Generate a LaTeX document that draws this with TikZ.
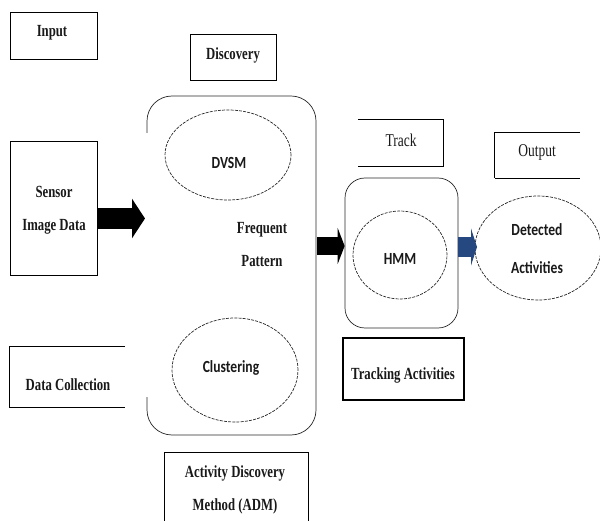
\documentclass[tikz,border=0pt]{standalone}
\usepackage{fontspec}
\setmainfont{Liberation Serif}
\newfontfamily\timesfont[FakeStretch=0.75]{Liberation Serif}
\newfontfamily\calfont[FakeStretch=0.8]{Carlito}
\usetikzlibrary{arrows.meta,shapes.geometric}
\definecolor{arrblue}{RGB}{38,72,128}
\definecolor{linegray}{RGB}{40,40,40}
\tikzset{
  box/.style={draw, line width=0.8pt, inner sep=0pt},
  openbox/.style={inner sep=0pt},
  lbl/.style={font=\timesfont\bfseries\fontsize{17}{33}\selectfont, align=center, inner sep=0pt, text=black!90},
  lblr/.style={font=\timesfont\fontsize{18}{22}\selectfont, align=center, inner sep=0pt, text=black!90},
  slbl/.style={font=\calfont\bfseries\fontsize{17}{38}\selectfont, align=center, inner sep=0pt, text=black!90},
  ell/.style={draw=linegray, ellipse, dash pattern=on 3pt off 1.2pt, line width=0.7pt, inner sep=0pt},
  container/.style={draw=linegray, line width=0.7pt},
  blockarrow/.style={line cap=butt}
}
\begin{document}
\begin{tikzpicture}[x=1pt,y=-1pt]
\useasboundingbox (0,0) rectangle (600,521);
% boxes
\node[box, minimum width=87pt, minimum height=47pt] (input) at (53.5,35.5) {};
\node[lbl] (inputtxt) at (52,33) {Input};
\node[box, minimum width=86pt, minimum height=46pt] (disc) at (233,57) {};
\node[lbl] (disctxt) at (233,55) {Discovery};
\node[box, minimum width=87pt, minimum height=134pt] (sensor) at (53.5,208) {};
\node[lbl] (sensortxt) at (54,210) {Sensor\\Image Data};
\node[openbox, minimum width=115pt, minimum height=60pt] (dc) at (67.5,377) {};
\draw[line width=0.8pt] (dc.north east) -- (dc.north west) -- (dc.south west) -- (dc.south east);
\node[lbl] (dctxt) at (68,385) {Data Collection};
\node[openbox, minimum width=143pt, minimum height=80pt] (admbox) at (236.5,493) {};
\draw[line width=0.8pt] (admbox.south west) -- (admbox.north west) -- (admbox.north east) -- (admbox.south east);
\node[lbl] (admtxt) at (235,490) {Activity Discovery\\Method (ADM)};
\node[openbox, minimum width=85pt, minimum height=46pt] (track) at (400.5,143) {};
\draw[line width=0.8pt] (track.north west) -- (track.north east) -- (track.south east) -- (track.south west);
\node[lblr] (tracktxt) at (401,140) {Track};
\node[openbox, minimum width=85pt, minimum height=45pt] (output) at (537.5,155.5) {};
\draw[line width=0.8pt] (output.north east) -- (output.north west) -- (output.south west);
\draw[line width=1.3pt] (output.south west) -- (output.south east);
\node[lblr] (outputtxt) at (537,152) {Output};
\node[box, line width=1.5pt, minimum width=121pt, minimum height=62pt] (tracking) at (403.5,369) {};
\node[lbl] (trackingtxt) at (403,375) {Tracking Activities};
% ADM container (left side partly open)
\coordinate (admtop) at (147,133);
\coordinate (admbot) at (147,397);
\draw[container, rounded corners=25pt] (admtop) -- (147,96) -- (316,96) -- (316,435) -- (147,435) -- (admbot);
\coordinate (admright) at (316,246);
% HMM container
\node[draw=linegray, line width=0.7pt, rounded corners=20pt, minimum width=113pt, minimum height=150pt, inner sep=0pt] (hmmbox) at (401.5,253) {};
% ellipses
\node[ell, minimum width=126pt, minimum height=90pt] (dvsm) at (228,155) {};
\node[slbl] (dvsmtxt) at (229,163) {DVSM};
\node[ell, minimum width=126pt, minimum height=104pt] (clust) at (235,370) {};
\node[slbl] (clusttxt) at (231,368) {Clustering};
\node[ell, minimum width=94pt, minimum height=88pt] (hmm) at (400,255) {};
\node[slbl] (hmmtxt) at (400,259) {HMM};
\node[ell, minimum width=126pt, minimum height=104pt] (det) at (538,248) {};
\node[slbl] (dettxt) at (537,249) {Detected\\Activities};
\node[lbl] (freqtxt) at (262,245) {Frequent\\Pattern};
% block arrows
\coordinate (a1s) at (sensor.east |- 0,218.5);
\coordinate (a1e) at (145,218.5);
\draw[blockarrow, line width=21pt, -{Triangle[length=13pt, width=39pt]}] (a1s) -- (a1e);
\coordinate (a2s) at (317,246);
\coordinate (a2e) at (hmmbox.west |- a2s);
\draw[blockarrow, line width=18pt, -{Triangle[length=7pt, width=36pt]}] (a2s) -- (a2e);
\coordinate (a3s) at (hmmbox.east |- 0,247);
\coordinate (a3e) at (477,247);
\draw[blockarrow, arrblue, line width=20pt, -{Triangle[length=6pt, width=37pt]}] (a3s) -- (a3e);
\end{tikzpicture}
\end{document}
